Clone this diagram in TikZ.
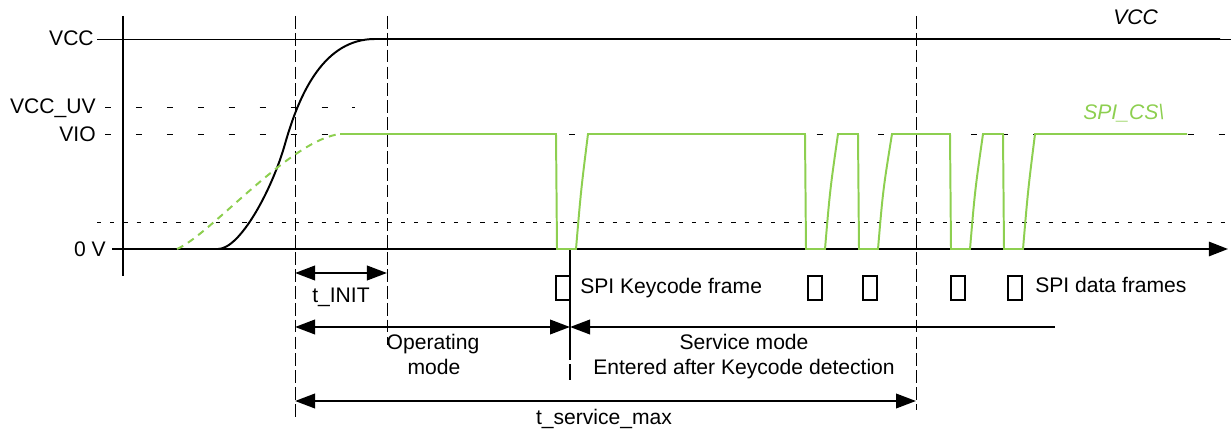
\documentclass[tikz,border=0pt]{standalone}
\usepackage{fontspec}
\setmainfont{Liberation Sans}
\usetikzlibrary{arrows.meta}
\definecolor{spigreen}{RGB}{141,207,80}
\tikzset{
  level/.style={line width=0.7pt, dash pattern=on 4.3pt off 17.7pt},
  fine/.style={line width=0.7pt, dash pattern=on 3pt off 6.4pt},
  marker/.style={line width=0.7pt, dash pattern=on 9pt off 3pt},
  sig/.style={line width=1.4pt},
  dim/.style={line width=1.8pt, >={Triangle[length=0.5cm,width=0.36cm]}},
  lbl/.style={font=\fontsize{15}{18}\selectfont, inner sep=0pt},
}
\begin{document}
\begin{tikzpicture}[x=0.025cm, y=-0.025cm]
  \useasboundingbox (0,0) rectangle (1231,432);

  % axes
  \coordinate (O) at (123,249);
  \draw [sig] (123,16) -- (123,276);
  \draw [sig, -{Triangle[length=0.48cm,width=0.36cm]}] (112,249) -- (1228,249);

  % levels
  \draw [line width=0.6pt] (97,39) -- (1231,39);
  \draw [level] (105,107) -- (355,107);
  \draw [level] (105,134) -- (1231,134);
  \draw [fine] (97,222) -- (1231,222);

  \node [lbl, anchor=base east] (vcc) at (94,46) {VCC};
  \node [lbl, anchor=base east] (vccuv) at (96,114) {VCC\_UV};
  \node [lbl, anchor=base east] (vio) at (96,142) {VIO};
  \node [lbl, anchor=base east] (zero) at (106,257) {0 V};

  % time markers
  \draw [marker] (295,16) -- (295,420);
  \draw [marker] (387,16) -- (387,345);
  \draw [marker] (916,16) -- (916,410);
  \draw [line width=1.2pt, dash pattern=on 79pt off 3pt] (570,249) -- (570,380);

  % VCC ramp
  \draw [sig] (218,249) .. controls (240,249) and (272,190) .. (285,144)
    .. controls (300,91) and (325,39) .. (375,39) -- (1220,39);
  \node [lbl, anchor=base west, font=\fontsize{15}{18}\selectfont\itshape] (vcclbl) at (1113,25) {VCC};

  % SPI_CS\ ramp and frames
  \draw [sig, spigreen, dash pattern=on 5pt off 4pt] (177,249) .. controls (210,235) and (290,140) .. (340,134);
  \draw [sig, spigreen] (340,134)
    \foreach \f/\r/\t in {556/576/588, 805/825/838, 858/878/892, 950/970/983, 1003/1023/1035}
      { -- (\f,134) -- (\f+1,249) -- (\r,249) .. controls (\r+5,190) .. (\t,134) }
    -- (1187,134);
  \node [lbl, anchor=base west, text=spigreen, font=\fontsize{15}{18}\selectfont\itshape] (cslbl) at (1083,120) {SPI\_CS\textbackslash};

  \foreach \c in {563, 815, 870, 958, 1015}
    \draw [line width=1.2pt] (\c-7,276) rectangle (\c+7,300);
  \node [lbl, anchor=base west] (keyframe) at (580,294) {SPI Keycode frame};
  \node [lbl, anchor=base west] (dataframe) at (1035,293) {SPI data frames};

  % durations
  \coordinate (init) at (295,273);
  \coordinate (ready) at (387,273);
  \coordinate (opL) at (295,327);
  \coordinate (key) at (570,327);
  \coordinate (svcR) at (1055,327);
  \coordinate (maxL) at (295,401);
  \coordinate (maxR) at (916,401);

  \draw [dim, <->] (init) -- (ready);
  \draw [dim, <->] (opL) -- (key);
  \draw [dim, <-] (key) -- (svcR);
  \draw [dim, <->] (maxL) -- (maxR);

  \node [lbl, anchor=base] (tinit) at (341,303) {t\_INIT};
  \node [lbl, anchor=base] (op) at (433,350) {Operating};
  \node [lbl, anchor=base] (opmode) at (434,375) {mode};
  \node [lbl, anchor=base] (svc) at (744,350) {Service mode};
  \node [lbl, anchor=base] (entered) at (744,375) {Entered after Keycode detection};
  \node [lbl, anchor=base] (tmax) at (604,425) {t\_service\_max};
\end{tikzpicture}
\end{document}
